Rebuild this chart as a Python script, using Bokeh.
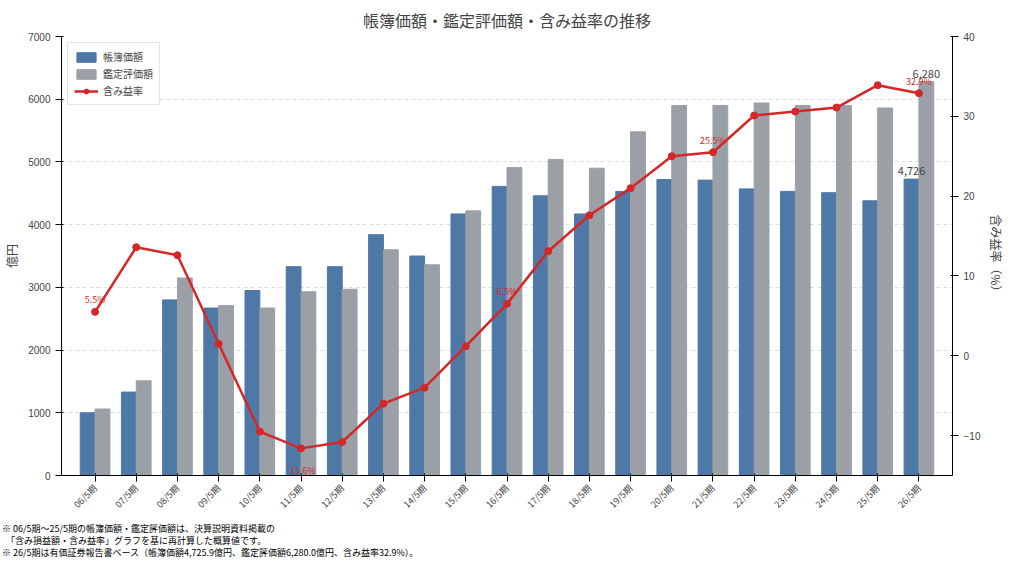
from bokeh.plotting import figure
from bokeh.models import Range1d, LinearAxis, Label, Legend, LegendItem, ColumnDataSource, FactorRange, Div, NumeralTickFormatter
from bokeh.transform import dodge
from bokeh.layouts import column
from bokeh.embed import file_html
from bokeh.resources import INLINE

periods = ["06/5期","07/5期","08/5期","09/5期","10/5期","11/5期","12/5期","13/5期","14/5期","15/5期","16/5期",
           "17/5期","18/5期","19/5期","20/5期","21/5期","22/5期","23/5期","24/5期","25/5期","26/5期"]
book = [1000,1330,2800,2670,2950,3330,3330,3840,3500,4170,4610,4460,4170,4530,4720,4710,4570,4530,4510,4380,4725.9]
appraisal = [1060,1510,3150,2710,2670,2930,2970,3600,3360,4220,4910,5040,4900,5480,5900,5900,5940,5900,5900,5860,6280.0]
rate = [5.5,13.6,12.6,1.5,-9.5,-11.6,-10.8,-6.0,-4.0,1.2,6.5,13.1,17.6,21.0,25.0,25.5,30.1,30.6,31.1,33.9,32.9]
labeled = {0:(12,"5.5%"),5:(-22,"-11.6%"),10:(12,"6.5%"),15:(12,"25.5%"),20:(12,"32.9%")}

FONT = "Noto Sans CJK JP"
src = ColumnDataSource(dict(x=periods, book=book, appraisal=appraisal, rate=rate))

p = figure(width=1008, height=518, x_range=FactorRange(*periods, range_padding=0.03), y_range=Range1d(0, 7000),
           output_backend="svg", toolbar_location=None, title="帳簿価額・鑑定評価額・含み益率の推移",
           min_border_left=46, min_border_right=40, min_border_top=10)
p.title.align = "center"; p.title.text_font = FONT; p.title.text_font_size = "16px"; p.title.text_font_style = "normal"
p.extra_y_ranges = {"r": Range1d(-15, 40)}

b1 = p.vbar(x=dodge("x", -0.18, range=p.x_range), top="book", width=0.36, source=src,
            fill_color="#4e79a7", line_color="#4e79a7")
b2 = p.vbar(x=dodge("x", 0.18, range=p.x_range), top="appraisal", width=0.36, source=src,
            fill_color="#9aa0a6", line_color="#9aa0a6")
l = p.line(x="x", y="rate", source=src, y_range_name="r", line_color="#d62728", line_width=2.5)
c = p.scatter(x="x", y="rate", source=src, y_range_name="r", color="#d62728", size=7)

for i, (off, txt) in labeled.items():
    p.add_layout(Label(x=i + 0.5, y=rate[i], y_range_name="r", text=txt, y_offset=off, text_align="center",
                       text_baseline="middle", text_color="#d62728", text_font_size="9px", text_font=FONT))
p.add_layout(Label(x=20.5 - 0.18, y=book[20], text="4,726", y_offset=4, text_align="center",
                   text_font_size="11px", text_font=FONT))
p.add_layout(Label(x=20.5 + 0.18, y=appraisal[20], text="6,280", y_offset=4, text_align="center",
                   text_font_size="11px", text_font=FONT))

ra = LinearAxis(y_range_name="r", axis_label="含み益率（%）")
p.add_layout(ra, "right")
for ax in [p.yaxis[0], ra]:
    ax.axis_label_text_font = FONT; ax.axis_label_text_font_style = "normal"; ax.axis_label_text_font_size = "12px"
    ax.major_label_text_font_size = "10px"; ax.minor_tick_line_color = None
p.yaxis[0].axis_label = "億円"
p.yaxis[0].ticker.desired_num_ticks = 8
ra.ticker.desired_num_ticks = 6
p.xaxis.major_label_orientation = 0.785
p.xaxis.major_label_text_font = FONT
p.xaxis.major_label_text_font_size = "9px"
p.xgrid.grid_line_color = None
p.ygrid.grid_line_dash = "4 3"; p.ygrid.grid_line_color = "#dddddd"
p.outline_line_color = None

leg = Legend(items=[LegendItem(label="帳簿価額", renderers=[b1]), LegendItem(label="鑑定評価額", renderers=[b2]),
                    LegendItem(label="含み益率", renderers=[l, c])],
             location="top_left", label_text_font=FONT, label_text_font_size="10px",
             border_line_color="#cccccc", glyph_height=12, glyph_width=24, spacing=2, padding=6, margin=6, label_height=12)
p.add_layout(leg)

notes = Div(text="※ 06/5期～25/5期の帳簿価額・鑑定評価額は、決算説明資料掲載の<br>"
                 "&nbsp;&nbsp;「含み損益額・含み益率」グラフを基に再計算した概算値です。<br>"
                 "※ 26/5期は有価証券報告書ベース（帳簿価額4,725.9億円、鑑定評価額6,280.0億円、含み益率32.9%）。",
            width=1000, styles={"font-size": "9px", "font-family": FONT, "line-height": "12px", "margin-left": "2px"})
open("out.html", "w").write(file_html(column(p, notes, spacing=0), INLINE))
